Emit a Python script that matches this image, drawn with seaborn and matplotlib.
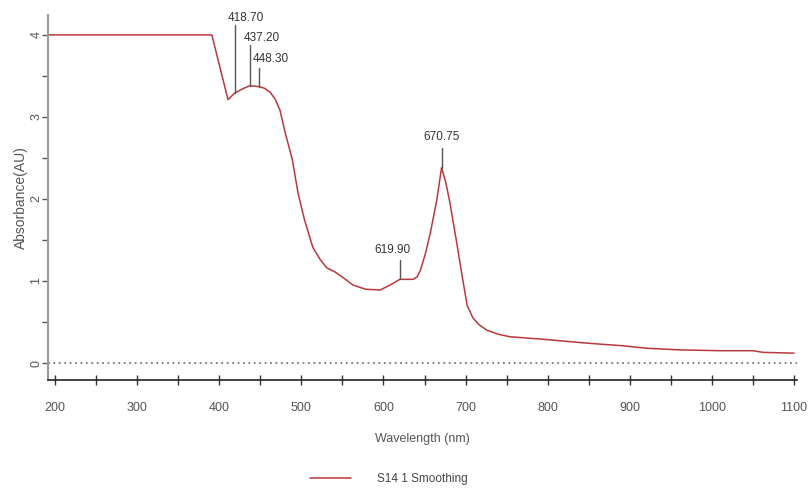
import numpy as np
import pandas as pd
import seaborn as sns
from matplotlib import pyplot as plt
from matplotlib.ticker import MultipleLocator

# spectrum
wavelength = [192, 391, 410.7, 418.7, 428, 437.2, 448.3, 455, 462, 468, 474, 480, 489, 496,
              504, 514, 523, 531, 541, 551, 563, 578, 596, 608, 619.9, 636, 641, 645, 651, 657,
              665, 670.75, 676, 681, 690, 696, 702, 709, 716, 726, 740, 754, 794, 839, 864, 892,
              921, 961, 1010, 1050, 1062, 1100]
absorbance = [4.0, 4.0, 3.21, 3.29, 3.34, 3.38, 3.37, 3.35, 3.30, 3.22, 3.08, 2.82, 2.48, 2.07,
              1.74, 1.41, 1.26, 1.16, 1.11, 1.04, 0.95, 0.90, 0.89, 0.95, 1.02, 1.02, 1.05, 1.13,
              1.33, 1.58, 1.99, 2.38, 2.20, 1.95, 1.42, 1.05, 0.70, 0.55, 0.47, 0.40, 0.35, 0.32,
              0.29, 0.25, 0.23, 0.21, 0.18, 0.16, 0.15, 0.15, 0.13, 0.12]

peaks = [418.70, 437.20, 448.30, 619.90, 670.75]
peak_labels = ["418.70", "437.20", "448.30", "619.90", "670.75"]

# annotation layout (line top, text y, text x shift in nm, alignment)
ann_top = [4.12, 3.88, 3.60, 1.26, 2.62]
ann_text = [4.21, 3.96, 3.70, 1.38, 2.76]
ann_dx = [-8, -8, -8, -9, 0]
ann_ha = ["left", "left", "left", "center", "center"]

df = pd.DataFrame({"Wavelength": wavelength, "Absorbance": absorbance,
                   "Serie": "S14 1 Smoothing"})

sns.set_style("white")
plt.rcParams["font.family"] = ["Liberation Sans Narrow", "Liberation Sans", "DejaVu Sans"]

fig = plt.figure(figsize=(8.1, 4.9), dpi=100)
ax = fig.add_axes([0.0593, 0.2245, 0.9247, 0.7445])

red = "#b8383c"
sns.lineplot(data=df, x="Wavelength", y="Absorbance", hue="Serie", palette=[red],
             estimator=None, sort=False, linewidth=1.1, ax=ax, legend=False)

ax.axhline(0, color="#777777", linestyle=(0, (1, 2)), linewidth=1.3)

for p, lab, top, ty, dx, ha in zip(peaks, peak_labels, ann_top, ann_text, ann_dx, ann_ha):
    yb = np.interp(p, wavelength, absorbance)
    ax.plot([p, p], [yb, top], color="#555555", linewidth=1)
    ax.text(p + dx, ty, lab, ha=ha, va="center", fontsize=8.5, color="#333333")

ax.set_xlim(191.5, 1103.7)
ax.set_ylim(-0.207, 4.24)
ax.xaxis.set_major_locator(MultipleLocator(100))
ax.xaxis.set_minor_locator(MultipleLocator(50))
ax.yaxis.set_major_locator(MultipleLocator(1))
ax.yaxis.set_minor_locator(MultipleLocator(0.5))

for s in ["top", "right"]:
    ax.spines[s].set_visible(False)
ax.spines["left"].set_color("#9a9a9a")
ax.spines["left"].set_linewidth(1.5)
ax.spines["bottom"].set_color("#222222")
ax.spines["bottom"].set_linewidth(1.2)

ax.tick_params(axis="x", which="both", direction="inout", length=7, width=1,
               color="#333333", pad=12, labelsize=9, labelcolor="#555555", bottom=True)
ax.tick_params(axis="y", which="both", direction="out", length=4, width=1,
               color="#555555", pad=0, labelsize=9, labelcolor="#555555", left=True)
for t in ax.get_yticklabels():
    t.set_rotation(90)
    t.set_va("center")

ax.set_xlabel("Wavelength (nm)", fontsize=9, color="#555555", labelpad=14)
ax.set_ylabel("Absorbance(AU)", fontsize=10, color="#555555", labelpad=2,
              family=["Liberation Sans", "DejaVu Sans"])

handles = [plt.Line2D([], [], color=red, linewidth=1.1)]
fig.legend(handles, ["S14 1 Smoothing"], loc="center", bbox_to_anchor=(0.48, 0.022),
           frameon=False, fontsize=8.5, handlelength=3.5, handletextpad=2.2,
           labelcolor="#444444")

fig.savefig("out.png", dpi=100)
